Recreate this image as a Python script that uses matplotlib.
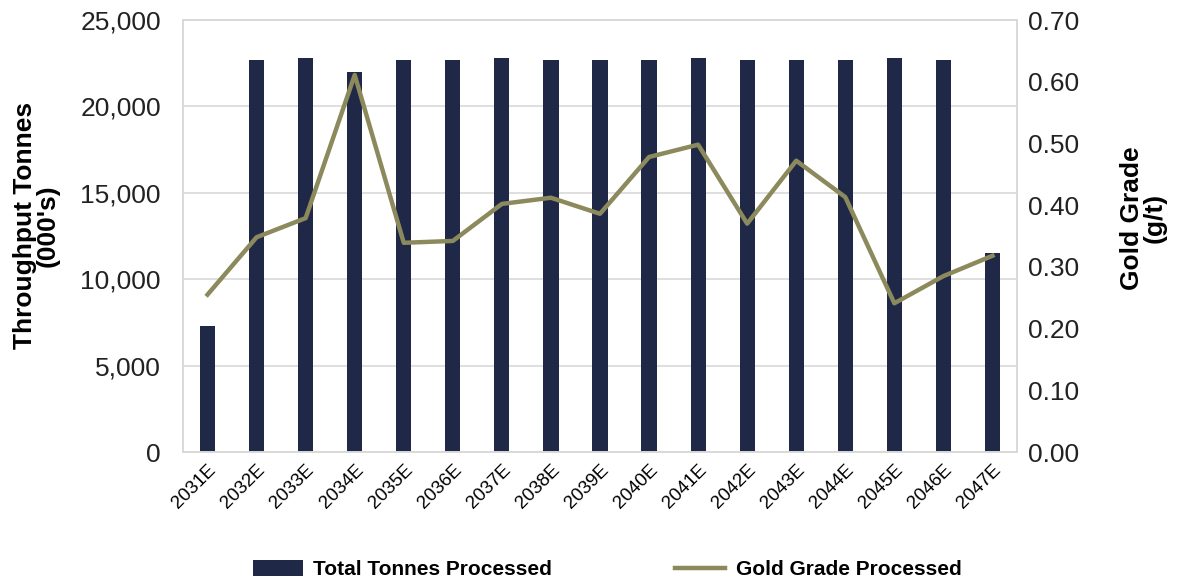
import matplotlib
matplotlib.use("Agg")
import matplotlib.pyplot as plt
import numpy as np

plt.rcParams['font.family'] = ['Liberation Sans', 'DejaVu Sans']

years = ['2031E', '2032E', '2033E', '2034E', '2035E', '2036E', '2037E', '2038E', '2039E',
         '2040E', '2041E', '2042E', '2043E', '2044E', '2045E', '2046E', '2047E']
tonnes = [7300, 22700, 22800, 22000, 22700, 22700, 22800, 22700, 22700,
          22700, 22800, 22700, 22700, 22700, 22800, 22700, 11500]
grade = [0.255, 0.348, 0.379, 0.611, 0.339, 0.342, 0.402, 0.412, 0.386,
         0.478, 0.498, 0.370, 0.472, 0.413, 0.241, 0.285, 0.318]

bar_color = '#1f2847'
line_color = '#8c8a5c'
grid_color = '#d9d9d9'

fig = plt.figure(figsize=(11.78, 5.8), dpi=100)
ax = fig.add_axes([183 / 1178, 1 - 452 / 580, (1017 - 183) / 1178, (452 - 20) / 580])
ax2 = ax.twinx()

x = np.arange(len(years))
ax.bar(x, tonnes, width=0.31, color=bar_color, zorder=2, label='Total Tonnes Processed')
ax2.plot(x, grade, color=line_color, lw=3.2, zorder=3, label='Gold Grade Processed')

ax.set_xlim(-0.5, len(years) - 0.5)
ax.set_ylim(0, 25000)
ax.set_yticks(np.arange(0, 25001, 5000))
ax.set_yticklabels([f'{v:,}' for v in range(0, 25001, 5000)], fontsize=19, color='#222222')
ax2.set_ylim(0, 0.70)
ax2.set_yticks(np.arange(0, 0.701, 0.1))
ax2.set_yticklabels([f'{v:.2f}' for v in np.arange(0, 0.701, 0.1)], fontsize=19, color='#222222')

ax.set_xticks(x)
ax.set_xticklabels(years, rotation=45, ha='right', rotation_mode='anchor', fontsize=13.5)

ax.yaxis.grid(True, color=grid_color, lw=1.2, zorder=0)
ax.set_axisbelow(True)
for a in (ax, ax2):
    for s in a.spines.values():
        s.set_color(grid_color)
        s.set_linewidth(1.2)
    a.tick_params(length=0, pad=8)
ax.tick_params(axis='y', pad=16)
ax.tick_params(axis='x', pad=7)

ax.set_ylabel("Throughput Tonnes\n(000's)", fontsize=19, fontweight='bold', linespacing=0.95)
ax.yaxis.set_label_coords(-0.1475, 0.525)
ax2.set_ylabel("Gold Grade\n(g/t)", fontsize=19, fontweight='bold', linespacing=0.95, rotation=90)
ax2.yaxis.set_label_coords(1.1235, 0.542)

h1, l1 = ax.get_legend_handles_labels()
h2, l2 = ax2.get_legend_handles_labels()
fig.legend(h1 + h2, l1 + l2, loc='center', bbox_to_anchor=(0.5155, 0.018), ncol=2,
           frameon=False, prop={'weight': 'bold', 'size': 15}, columnspacing=5.9,
           handlelength=2.4, handleheight=0.8, handletextpad=0.5)

fig.savefig('out.png', dpi=100)
